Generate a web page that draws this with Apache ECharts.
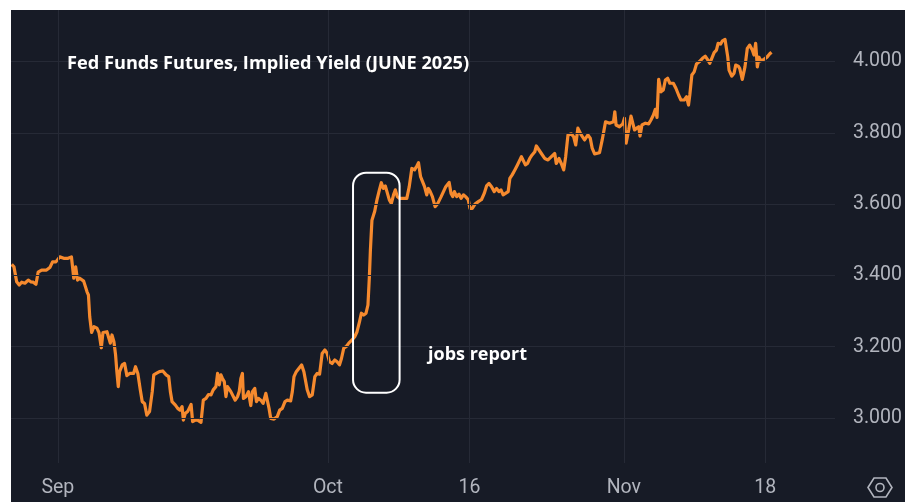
<!DOCTYPE html>
<html>
<head>
<meta charset="utf-8">
<script src="https://cdn.jsdelivr.net/npm/echarts@6/dist/echarts.min.js"></script>
<style>
  html, body { margin: 0; padding: 0; background: #ffffff; }
  #chart { position: absolute; left: 11px; top: 10px; width: 894px; height: 492px; background: #171b26; }
</style>
</head>
<body>
<div id="chart"></div>
<script>
// x = trading-day index, 0 = first September session
const days = [
  -3.59,-3.41,-3.20,-3.00,-2.81,-2.56,-2.30,-2.11,-1.91,-1.70,
  -1.53,-1.26,-0.88,-0.62,-0.41,-0.15,0.15,0.46,0.80,1.06,
  1.24,1.39,1.53,1.70,2.01,2.27,2.38,2.48,2.63,2.81,
  3.04,3.20,3.38,3.51,3.82,3.95,4.08,4.21,4.36,4.49,
  4.59,4.70,4.80,5.01,5.19,5.37,5.58,5.89,6.04,6.22,
  6.41,6.56,6.74,6.92,7.13,7.34,7.46,7.65,7.90,8.16,
  8.42,8.62,8.75,8.88,9.14,9.32,9.50,9.66,9.76,9.91,
  10.09,10.22,10.36,10.48,10.69,10.87,11.13,11.31,11.52,11.72,
  11.91,12.08,12.29,12.42,12.55,12.68,12.80,12.94,13.07,13.19,
  13.32,13.45,13.58,13.79,13.97,14.10,14.23,14.35,14.43,14.62,
  14.82,15.00,15.13,15.31,15.44,15.59,15.78,15.96,16.17,16.29,
  16.42,16.55,16.81,17.06,17.25,17.45,17.66,17.84,18.10,18.23,
  18.36,18.54,18.69,
  18.95,19.13,19.39,19.57,19.78,19.98,20.16,20.35,20.55,20.76,
  20.94,21.12,21.32,21.53,21.71,21.90,22.05,22.23,22.41,22.62,
  22.87,23.08,23.26,23.45,23.60,23.78,23.96,24.11,24.22,24.30,
  24.42,24.63,24.81,25.00,25.15,25.31,25.46,25.59,25.77,25.93,
  26.10,26.24,26.39,26.55,26.70,26.88,27.13,27.32,27.52,27.73,
  27.91,28.04,28.20,28.35,28.51,28.68,28.81,28.95,29.12,29.33,
  29.54,29.80,29.98,30.16,30.42,30.57,30.70,30.83,31.01,31.19,
  31.35,31.53,31.70,31.91,32.04,32.22,32.43,32.69,32.94,33.15,
  33.33,33.52,33.72,33.93,34.11,34.29,34.45,34.62,34.80,35.01,
  35.14,35.32,35.53,35.73,35.92,36.04,36.17,36.35,36.51,36.69,
  36.87,37.08,37.20,37.59,37.85,38.11,38.37,
  38.50,38.63,38.75,38.96,39.14,39.33,39.48,39.66,39.92,40.10,
  40.26,40.43,40.69,40.95,41.21,41.39,41.54,41.73,42.11,42.32,
  42.58,42.89,43.20,43.30,43.40,43.66,43.92,44.05,44.18,44.38,
  44.56,44.69,44.83,45.00,45.16,45.26,45.41,45.68,45.93,46.11,
  46.30,46.45,46.58,46.71,46.89,47.07,47.23,47.41,47.58,47.85,
  48.05,48.26,48.44,48.70,48.88,49.03,49.13,49.29,49.47,49.65,
  49.86,50.12,50.33,50.50,50.68,50.84,51.02,51.20,51.33,51.53,
  51.67,51.87,51.98,52.08,52.18,52.39,52.57,52.70,52.90,53.01,
  53.21,53.42,53.60,53.78,53.99,54.12,54.25,54.38,54.51,54.63,
  54.90,55.15,55.33,55.48
];
const yields = [
  3.431,3.424,3.382,3.373,3.381,3.378,3.387,3.382,3.381,3.375,
  3.409,3.415,3.415,3.422,3.438,3.438,3.452,3.448,3.448,3.452,
  3.392,3.424,3.387,3.392,3.384,3.354,3.345,3.284,3.240,3.256,
  3.252,3.240,3.197,3.240,3.242,3.238,3.210,3.233,3.214,3.177,
  3.130,3.088,3.130,3.149,3.153,3.119,3.125,3.125,3.144,3.125,
  3.079,3.046,3.041,3.008,3.018,3.074,3.121,3.125,3.130,3.132,
  3.121,3.116,3.074,3.046,3.036,3.027,3.022,3.032,2.994,3.013,
  3.018,3.020,3.038,2.990,2.994,2.994,2.988,3.050,3.055,3.066,
  3.065,3.079,3.088,3.125,3.093,3.121,3.111,3.102,3.060,3.088,
  3.083,3.074,3.069,3.050,3.060,3.074,3.111,3.125,3.055,3.060,
  3.074,3.035,3.074,3.083,3.046,3.055,3.050,3.041,3.069,3.065,
  3.027,2.999,2.997,3.004,3.022,3.027,3.046,3.050,3.048,3.074,
  3.116,3.130,3.137,
  3.149,3.130,3.079,3.060,3.065,3.116,3.125,3.123,3.181,3.191,
  3.181,3.158,3.153,3.163,3.158,3.149,3.167,3.196,3.200,3.210,
  3.219,3.228,3.242,3.270,3.294,3.289,3.294,3.317,3.396,3.471,
  3.555,3.579,3.612,3.640,3.660,3.644,3.651,3.647,3.612,3.602,
  3.626,3.640,3.621,3.616,3.613,3.616,3.616,3.649,3.700,3.696,
  3.707,3.716,3.677,3.682,3.649,3.626,3.644,3.635,3.621,3.593,
  3.602,3.621,3.635,3.649,3.661,3.630,3.621,3.635,3.621,3.628,
  3.616,3.626,3.621,3.612,3.588,3.588,3.600,3.607,3.613,3.630,
  3.651,3.658,3.649,3.635,3.644,3.635,3.640,3.626,3.630,3.635,
  3.672,3.682,3.696,3.710,3.724,3.733,3.735,3.710,3.714,3.728,
  3.738,3.747,3.763,3.742,3.728,3.724,3.733,
  3.733,3.742,3.714,3.728,3.714,3.696,3.733,3.794,3.797,3.789,
  3.766,3.813,3.794,3.780,3.794,3.785,3.757,3.741,3.744,3.780,
  3.831,3.827,3.831,3.859,3.822,3.817,3.825,3.841,3.771,3.808,
  3.847,3.850,3.808,3.813,3.817,3.791,3.822,3.827,3.825,3.836,
  3.850,3.866,3.843,3.950,3.915,3.920,3.948,3.953,3.939,3.939,
  3.925,3.906,3.892,3.892,3.901,3.878,3.906,3.962,3.971,3.993,
  3.999,4.009,4.015,4.006,3.995,4.009,4.025,4.032,4.051,4.049,
  4.058,4.062,4.063,4.013,3.976,3.959,3.967,3.990,3.987,3.981,
  3.950,3.985,4.037,4.046,4.032,4.018,4.051,3.985,4.012,4.002,
  4.006,4.013,4.021,4.026
];
const xTicks = [0, 21, 32, 44, 55];
const xTickLabels = ['Sep', 'Oct', '16', 'Nov', '18'];
const yTicks = [3.0, 3.2, 3.4, 3.6, 3.8, 4.0];
// jobs report box, in data units
const boxDays = [22.95, 26.57];
const boxYields = [3.071, 3.688];

const labelColor = '#b2b5be';
const gridColor = '#262a36';

let chart = echarts.init(document.getElementById('chart'));

let option = {
    animation: false,
    backgroundColor: '#171b26',
    grid: { left: 0, top: 0, right: 67, bottom: 39 },
    xAxis: {
        type: 'value',
        min: -3.64,
        max: 60.42,
        axisLine: { show: false },
        axisTick: { show: false },
        splitLine: { show: false },
        axisLabel: {
            customValues: xTicks,
            formatter: function (v) {
                let i = xTicks.indexOf(v);
                return i >= 0 ? xTickLabels[i] : '';
            },
            color: labelColor,
            fontSize: 19.5,
            fontFamily: 'Roboto',
            margin: 15
        }
    },
    yAxis: {
        type: 'value',
        position: 'right',
        min: 2.8738,
        max: 4.1445,
        axisLine: { show: false },
        axisTick: { show: false },
        splitLine: { show: false },
        axisLabel: {
            customValues: yTicks,
            formatter: function (v) { return v.toFixed(3); },
            color: labelColor,
            fontSize: 19.5,
            fontFamily: 'Roboto',
            padding: [4, 0, 0, 0],
            margin: 18
        }
    },
    series: [
        {
            // grid lines only
            type: 'line',
            data: [],
            z: 1,
            markLine: {
                silent: true,
                symbol: ['none', 'none'],
                label: { show: false },
                lineStyle: { color: gridColor, width: 1, type: 'solid' },
                data: xTicks.map(v => ({ xAxis: v })).concat(yTicks.map(v => ({ yAxis: v })))
            }
        },
        {
            type: 'line',
            z: 3,
            showSymbol: false,
            data: days.map((d, i) => [d, yields[i]]),
            lineStyle: { color: '#f68a2e', width: 3.2, join: 'round' }
        }
    ]
};
chart.setOption(option);

let p0 = chart.convertToPixel({ gridIndex: 0 }, [boxDays[0], boxYields[1]]);
let p1 = chart.convertToPixel({ gridIndex: 0 }, [boxDays[1], boxYields[0]]);

chart.setOption({
    graphic: [
        {
            type: 'text', left: 56, top: 45, z: 10,
            style: {
                text: 'Fed Funds Futures, Implied Yield (JUNE 2025)',
                fill: '#ffffff', font: 'bold 18.2px "Open Sans"'
            }
        },
        {
            type: 'text', left: 417, top: 336, z: 10,
            style: { text: 'jobs report', fill: '#ffffff', font: 'bold 18px "Open Sans"' }
        },
        {
            type: 'rect', z: 10,
            shape: { x: p0[0], y: p0[1], width: p1[0] - p0[0], height: p1[1] - p0[1], r: 13 },
            style: { fill: 'none', stroke: '#ffffff', lineWidth: 2 }
        },
        {
            type: 'polygon', z: 10,
            shape: { points: [[857, 477.5], [863, 468], [875, 468], [881, 477.5], [875, 487], [863, 487]] },
            style: { fill: 'none', stroke: labelColor, lineWidth: 1.6 }
        },
        {
            type: 'circle', z: 10,
            shape: { cx: 869, cy: 477.5, r: 4 },
            style: { fill: 'none', stroke: labelColor, lineWidth: 1.6 }
        }
    ]
});
</script>
</body>
</html>
